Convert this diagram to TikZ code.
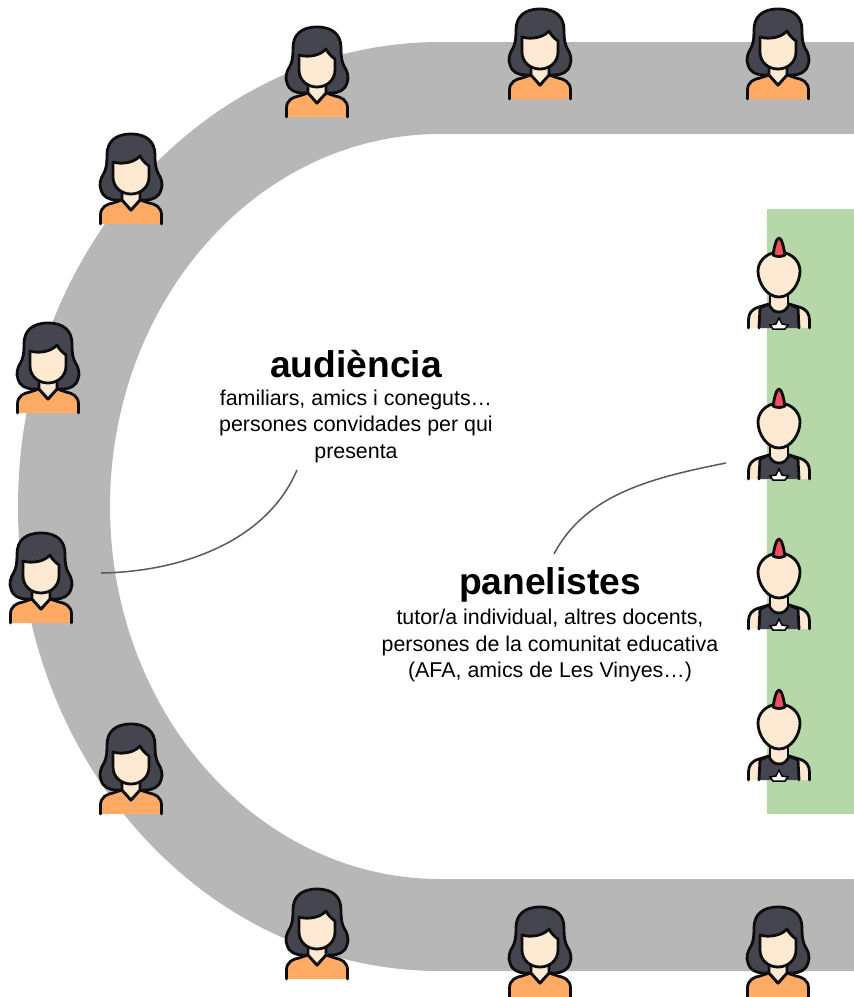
\documentclass[tikz,border=0pt]{standalone}
\usepackage{fontspec}
\setmainfont{Liberation Sans}
\usetikzlibrary{positioning}
\definecolor{banda}{HTML}{B7B7B7}
\definecolor{taula}{HTML}{B6D7A8}
\definecolor{cabell}{HTML}{45454F}
\definecolor{pell}{HTML}{FEE9D2}
\definecolor{taronja}{HTML}{FFAB66}
\definecolor{linia}{HTML}{595959}
\definecolor{cresta}{HTML}{F0505F}
\tikzset{
  contorn/.style={draw=black!95,line width=2.8pt,line join=round,line cap=round},
  titol/.style={font=\bfseries\fontsize{37.2}{40}\selectfont,inner sep=0pt},
  detall/.style={font=\fontsize{21.4}{26.8}\selectfont,align=center,inner sep=0pt},
  dona/.pic={
    \path[contorn,fill=cabell] (0,-45) .. controls (-16,-45) and (-24,-37) .. (-24,-24)
      .. controls (-24,-14) and (-25,-10) .. (-27,-6) .. controls (-31,0) and (-32,6) .. (-30,11)
      .. controls (-28,18) and (-22,21) .. (-14,21) -- (14,21)
      .. controls (22,21) and (28,18) .. (30,11) .. controls (32,6) and (31,0) .. (27,-6)
      .. controls (25,-10) and (24,-14) .. (24,-24) .. controls (24,-37) and (16,-45) .. (0,-45) -- cycle;
    \path[contorn,fill=taronja] (-30.5,45) -- (-30.5,36) .. controls (-30.5,28) and (-24,25) .. (-18,24)
      -- (-9,21) -- (0,31) -- (9,21) -- (18,24) .. controls (24,25) and (30.5,28) .. (30.5,36) -- (30.5,45);
    \path[contorn,fill=pell] (-9,10) -- (-9,21) -- (0,31) -- (9,21) -- (9,10);
    \path[contorn,fill=pell] (-18,-17) -- (-18,-2) .. controls (-18,8) and (-10,15) .. (0,15)
      .. controls (10,15) and (18,8) .. (18,-2) -- (18,-13)
      .. controls (14,-16) and (11,-19) .. (9,-23) .. controls (4,-17) and (-8,-14) .. (-18,-17) -- cycle;
  },
  panelista/.pic={
    \path[contorn,fill=pell] (-30.5,43) -- (-30.5,35) .. controls (-30.5,28) and (-27,24) .. (-20,22)
      -- (-10,19) -- (10,19) -- (20,22) .. controls (27,24) and (30.5,28) .. (30.5,35) -- (30.5,43);
    \path[contorn,fill=cabell] (-20,43) -- (-19,23) -- (-10,19) .. controls (-8,25) and (-4,27) .. (0,27)
      .. controls (4,27) and (8,25) .. (10,19) -- (19,23) -- (20,43);
    \path[draw=black,line width=1.5pt,fill=white] (0,33) -- (3,39) -- (9,40) -- (6,44) -- (-6,44) -- (-9,40) -- (-3,39) -- cycle;
    \fill[pell] (-8,9) -- (-8,20) .. controls (-6,25) and (6,25) .. (8,20) -- (8,9) -- cycle;
    \path[contorn] (-9,9) -- (-9,19) (9,9) -- (9,19);
    \path[contorn,fill=pell] (-6,-32) .. controls (-15,-30) and (-21,-22) .. (-21,-14)
      .. controls (-21,-2) and (-12,12) .. (0,12)
      .. controls (12,12) and (21,-2) .. (21,-14)
      .. controls (21,-22) and (15,-30) .. (6,-32) -- cycle;
    \path[contorn,fill=cresta] (0,-47) .. controls (-3,-47) and (-5,-36) .. (-6,-30)
      .. controls (-2,-28) and (2,-28) .. (6,-30) .. controls (5,-36) and (3,-47) .. (0,-47) -- cycle;
  }
}

\begin{document}
\begin{tikzpicture}[x=1pt,y=-1pt]
  \useasboundingbox (0,0) rectangle (854,997);

  % banda i taula
  \fill[banda] (854,42) -- (440,42) arc[start angle=-90,end angle=-270,x radius=422,y radius=464.5]
    -- (854,971) -- (854,879) -- (440,879) arc[start angle=90,end angle=270,x radius=330,y radius=372.5]
    -- (854,134) -- cycle;
  \fill[taula] (767,209) rectangle (854,814);

  % audiencia
  \pic at (317,72)  {dona};
  \pic at (540,54)  {dona};
  \pic at (778,54)  {dona};
  \pic at (131,179) {dona};
  \pic at (48,368)  {dona};
  \pic at (41,578)  {dona};
  \pic at (131,769) {dona};
  \pic at (317,934) {dona};
  \pic at (540,952) {dona};
  \pic at (778,952) {dona};

  % panel
  \pic at (779,285) {panelista};
  \pic at (779,436) {panelista};
  \pic at (779,586) {panelista};
  \pic at (779,737) {panelista};

  \node[titol]  (audiencia)  at (356,364) {audiència};
  \node[detall] (audienciatxt) [below=12pt of audiencia.base] {familiars, amics i coneguts…\\persones convidades per qui\\presenta};
  \node[titol]  (panelistes) at (550,585) {panelistes};
  \node[detall] (panelistestxt) [below=14pt of panelistes.base] {tutor/a individual, altres docents,\\persones de la comunitat educativa\\(AFA, amics de Les Vinyes…)};

  \coordinate (publicA) at (297,470);
  \coordinate (publicB) at (101,573);
  \coordinate (panelA)  at (554,554);
  \coordinate (panelB)  at (726,463);

  \draw[linia,line width=1.5pt] (publicA) .. controls (265,545) and (175,572) .. (publicB);
  \draw[linia,line width=1.5pt] (panelA) .. controls (585,495) and (650,478) .. (panelB);
\end{tikzpicture}
\end{document}
